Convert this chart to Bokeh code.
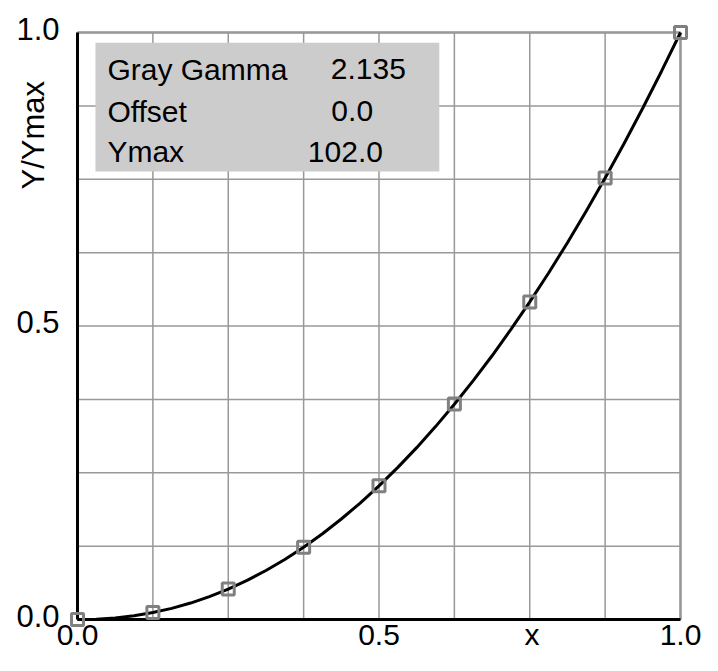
import math
from bokeh.plotting import figure
from bokeh.models import Range1d, ColumnDataSource
from bokeh.core.properties import value
from bokeh.embed import file_html
from bokeh.resources import INLINE

# ---- data ----
MARKER_X = [0.0, 0.125, 0.25, 0.375, 0.5, 0.625, 0.75, 0.875, 1.0]
MARKER_Y = [0.0, 0.012, 0.052, 0.123, 0.228, 0.367, 0.541, 0.752, 1.0]

CURVE_X = [0.0, 0.03125, 0.0625, 0.09375, 0.125, 0.15625, 0.1875, 0.21875,
           0.25, 0.28125, 0.3125, 0.34375, 0.375, 0.40625, 0.4375, 0.46875,
           0.5, 0.53125, 0.5625, 0.59375, 0.625, 0.65625, 0.6875, 0.71875,
           0.75, 0.78125, 0.8125, 0.84375, 0.875, 0.90625, 0.9375, 0.96875, 1.0]
CURVE_Y = [0.0, 0.0006, 0.0027, 0.0064, 0.0118, 0.0190, 0.0280, 0.0390,
           0.0519, 0.0667, 0.0835, 0.1023, 0.1232, 0.1461, 0.1712, 0.1984,
           0.2277, 0.2591, 0.2928, 0.3286, 0.3666, 0.4069, 0.4493, 0.4941,
           0.5411, 0.5903, 0.6419, 0.6958, 0.7520, 0.8105, 0.8713, 0.9345, 1.0]

GRID_TICKS = [0.0, 0.125, 0.25, 0.375, 0.5, 0.625, 0.75, 0.875, 1.0]
AXIS_TICKS = [0.0, 0.5, 1.0]
AXIS_TICK_LABELS = ["0.0", "0.5", "1.0"]

INFO_NAMES = ["Gray Gamma", "Offset", "Ymax"]
INFO_VALUES = ["2.135", "0.0", "102.0"]

X_TITLE = "x"
Y_TITLE = "Y/Ymax"

# ---- layout / style constants ----
FONT = "Liberation Sans"
W, H = 702, 655
PX_LEFT, PX_X1 = 77, 680      # canvas x of data x=0 and x=1
PX_BOTTOM, PX_Y1 = 619, 32    # canvas y of data y=0 and y=1
sx = PX_X1 - PX_LEFT
sy = PX_BOTTOM - PX_Y1

p = figure(width=W, height=H, output_backend="svg", toolbar_location=None,
           x_axis_type=None, y_axis_type=None, min_border=0,
           x_range=Range1d(-PX_LEFT / sx, (W - PX_LEFT) / sx),
           y_range=Range1d(-(H - PX_BOTTOM) / sy, 1 + PX_Y1 / sy))
p.background_fill_color = "white"
p.border_fill_color = "white"
p.outline_line_color = None

GRID_COLOR = "#999999"
n = len(GRID_TICKS)
# vertical and horizontal grid lines
p.segment(x0=GRID_TICKS, y0=[0.0] * n, x1=GRID_TICKS, y1=[1.0] * n,
          line_color=GRID_COLOR, line_width=1.5)
p.segment(x0=[0.0] * n, y0=GRID_TICKS, x1=[1.0] * n, y1=GRID_TICKS,
          line_color=GRID_COLOR, line_width=1.5)

# info box
p.quad(left=[0.0298], right=[0.600], top=[0.9825], bottom=[0.763],
       fill_color="#cccccc", line_color=None)
ROW_Y = [0.9238, 0.8525, 0.7829]
name_src = ColumnDataSource(dict(x=[0.0496] * 3, y=ROW_Y, t=INFO_NAMES))
val_src = ColumnDataSource(dict(x=[0.420, 0.421, 0.382], y=ROW_Y, t=INFO_VALUES))
for src in (name_src, val_src):
    p.text(x="x", y="y", text="t", source=src, text_font=value(FONT),
           text_font_size="30px", text_color="black",
           text_align="left", text_baseline="alphabetic", y_offset=-8)

# frame: top/right gray, left/bottom black axes
p.segment(x0=[0.0, 1.0], y0=[1.0, 0.0], x1=[1.0, 1.0], y1=[1.0, 1.0],
          line_color=GRID_COLOR, line_width=2.5)
p.segment(x0=[0.0, 0.0], y0=[0.0, 0.0], x1=[0.0, 1.0], y1=[1.0, 0.0],
          line_color="black", line_width=3)

# tick labels
k = len(AXIS_TICKS)
p.text(x=AXIS_TICKS, y=[0.0] * k, text=AXIS_TICK_LABELS, text_font=value(FONT),
       text_font_size="30px", text_color="black", text_align="center",
       text_baseline="alphabetic", y_offset=15)
p.text(x=[0.0] * k, y=AXIS_TICKS, text=AXIS_TICK_LABELS, text_font=value(FONT),
       text_font_size="31px", text_color="black", text_align="right",
       text_baseline="middle", x_offset=-18, y_offset=-4)

# axis titles
p.text(x=[0.7537], y=[0.0], text=[X_TITLE], text_font=value(FONT),
       text_font_size="30px", text_color="black", text_align="center",
       text_baseline="alphabetic", y_offset=15)
p.text(x=[-44 / sx], y=[0.825], text=[Y_TITLE], text_font=value(FONT),
       text_font_size="31px", text_color="black", text_align="center",
       text_baseline="middle", angle=math.pi / 2)

# curve and markers
p.line(CURVE_X, CURVE_Y, line_color="black", line_width=3)
p.scatter(MARKER_X, MARKER_Y, marker="square", size=12,
          line_color="#808080", line_width=3, fill_color=None)

open("out.html", "w").write(file_html(p, INLINE))
